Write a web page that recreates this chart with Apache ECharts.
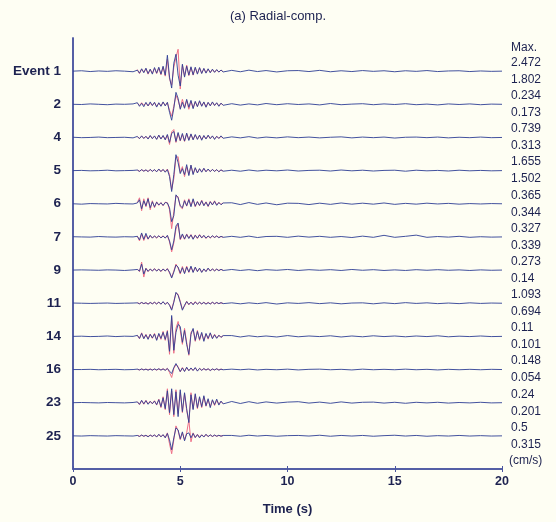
<!DOCTYPE html>
<html><head><meta charset="utf-8">
<script src="https://cdn.jsdelivr.net/npm/echarts@6/dist/echarts.min.js"></script>
<style>html,body{margin:0;padding:0;background:#fefef3}#c{width:556px;height:522px}</style>
</head><body><div id="c"></div>
<script>
// Time samples (s)
const timeBlue = [0,0.4,0.8,1.2,1.6,2.0,2.4,2.8,
 3.0,3.1,3.2,3.3,3.4,3.5,3.6,3.7,3.8,3.9,4.0,4.1,4.2,4.3,4.4,4.5,4.6,4.7,4.8,4.9,5.0,5.1,5.2,5.3,5.4,5.5,5.6,5.7,5.8,5.9,6.0,6.1,6.2,6.3,6.4,6.5,6.6,6.7,6.8,6.9,7.0,
 7.4,7.8,8.2,8.6,9.0,9.5,10,10.5,11,11.5,12,12.5,13,13.5,14,14.5,15,15.5,16,16.5,17,17.5,18,18.5,19,19.5,20];
const timeRed = [3.0,3.1,3.2,3.3,3.4,3.5,3.6,3.7,3.8,3.9,4.0,4.1,4.2,4.3,4.4,4.5,4.6,4.7,4.8,4.9,5.0,5.1,5.2,5.3,5.4,5.5,5.6,5.7,5.8,5.9,6.0,6.1,6.2,6.3,6.4,6.5,6.6,6.7,6.8,6.9,7.0];

const eventLabels = ['Event 1','2','4','5','6','7','9','11','14','16','23','25'];
const maxTop    = ['2.472','0.234','0.739','1.655','0.365','0.327','0.273','1.093','0.11','0.148','0.24','0.5'];
const maxBottom = ['1.802','0.173','0.313','1.502','0.344','0.339','0.14','0.694','0.101','0.054','0.201','0.315'];
const xTicks = [0,5,10,15,20];

// Relative amplitudes (percent of trace scale)
const e1Blue = [0,2,-2,1,-1,2,0,-3,
 5,-10,12,-8,15,-12,10,-15,18,-10,20,-15,25,-20,
 80,-30,-85,40,85,-20,-75,35,-30,25,-20,22,-18,20,-15,18,-12,14,-10,12,-8,10,-6,8,-5,6,-4,
 4,-3,5,-2,3,-4,2,3,-2,4,-3,2,-2,3,-1,2,-3,2,-1,3,-2,1,2,-2,1,-1,0];
const e1Red = [8,-12,10,-5,12,-15,8,-10,14,-12,15,-18,20,-25,
 60,-40,-70,20,70,110,-90,30,-25,30,-22,18,-20,15,-12,16,-10,12,-8,10,-6,8,-5,6,-4,5,-3];

const e2Blue = [0,-1,2,0,-2,1,0,2,
 8,-10,5,-12,10,-8,12,-6,10,-14,8,-10,12,-8,
 10,-40,-80,-20,60,30,-25,10,-20,25,-15,20,-22,15,-12,18,-10,12,-15,10,-8,12,-6,8,-10,6,-5,
 3,-4,2,-3,4,-2,3,-1,2,-3,4,-2,1,3,-2,2,-1,3,-2,1,-3,2,-1,2,-2,1,0];
const e2Red = [5,-6,8,-5,6,-8,5,-6,8,-10,6,-8,10,-6,
 8,-30,-60,-10,45,20,-20,25,-15,20,-25,15,-18,12,-10,14,-8,10,-12,8,-6,10,-5,6,-8,5,-4];

const e4Blue = [1,-1,0,2,-1,0,1,-2,
 5,-6,8,-5,6,-8,10,-6,8,-10,12,-8,10,-12,
 15,-25,20,30,-20,25,-15,20,-18,22,-15,18,-12,15,-10,12,-14,10,-8,12,-6,8,-10,6,-5,8,-4,
 3,-2,4,-3,2,-2,3,-1,2,-2,1,3,-2,2,-1,2,-3,1,2,-1,2,-2,1,-1,2,-1,0];
const e4Red = [3,-5,6,-4,5,-6,8,-5,6,-8,10,-6,8,-10,
 12,-35,28,40,-25,20,-18,15,-20,18,-12,15,-10,12,-8,10,-10,8,-6,8,-5,6,-6,5,-4,5,-3];

const e5Blue = [0,1,-1,0,2,-1,0,1,
 3,-4,5,-3,4,-5,6,-4,5,-6,8,-5,6,-8,
 5,-30,-105,-20,80,40,-15,10,-20,30,-25,28,-20,15,-12,10,-8,12,-6,8,-5,6,-4,5,-6,4,-3,
 2,-3,3,-2,2,-1,3,-2,1,2,-2,3,-1,2,-2,1,2,-3,2,-1,1,-2,2,-1,1,-1,0];
const e5Red = [2,-3,4,-2,3,-4,5,-3,4,-5,6,-4,5,-6,
 8,-20,-95,-40,65,70,-10,20,-30,20,-20,25,-15,12,-10,8,-6,10,-5,6,-4,5,-3,4,-5,3,-2];

const e6Blue = [0,-2,1,0,-1,2,0,-1,
 4,20,-25,15,-10,25,-20,10,-15,8,-6,5,-8,6,
 4,-20,-90,-60,45,30,-10,-20,15,-10,20,-15,25,-12,10,-8,15,-10,8,-12,10,-6,12,-8,6,-5,4,
 5,-4,6,-3,4,-5,3,2,-4,3,-3,4,-2,3,-2,4,-3,2,-2,3,-1,2,-2,1,-1,1,0];
const e6Red = [6,30,-35,25,-15,30,-30,15,-20,10,-8,6,-10,8,
 5,-30,-125,-40,40,35,-15,-25,20,-12,25,-10,20,-15,12,-10,18,-8,10,-14,12,-5,15,-6,8,-4,5];

const e7Blue = [1,0,-1,2,0,-1,1,0,
 3,-15,20,-12,18,-10,8,-6,5,-4,6,-5,4,-6,
 8,-20,-65,-20,55,70,-10,15,-10,12,-8,10,-12,8,-6,10,-5,8,-6,5,-4,6,-3,5,-4,3,-2,
 3,-2,4,-3,2,3,-2,4,-1,3,-2,2,-3,4,-2,8,-2,3,9,-2,2,-1,3,-2,1,-1,0];
const e7Red = [4,-20,15,-18,10,-12,6,-5,4,-6,5,-4,6,-5,
 6,-25,-75,-30,40,65,-15,10,-12,15,-6,12,-10,10,-8,12,-4,6,-8,4,-5,4,-2,4,-3,2,-1];

const e9Blue = [0,1,0,-1,1,0,-2,1,
 3,-5,30,-20,8,-6,5,-4,6,-5,4,-6,5,-4,
 6,-10,-40,-10,25,15,-15,12,-18,15,-10,20,-12,15,-8,10,-12,6,-8,10,-5,6,-4,5,-3,4,-2,
 3,-2,2,-3,2,-1,3,-2,2,-1,2,-2,3,-1,2,-2,1,-2,2,-1,2,-1,1,-2,1,-1,0];
const e9Red = [4,-8,40,-35,10,-8,6,-5,8,-4,5,-8,6,-5,
 8,-15,-35,-5,30,10,-20,18,-15,20,-12,15,-10,12,-6,8,-10,5,-6,8,-4,5,-3,4,-2,3,-1];

const e11Blue = [1,0,-1,0,1,-1,0,1,
 2,-3,4,-2,3,-5,4,-3,5,-4,6,-5,8,-6,
 5,-10,-35,5,55,40,5,-35,-10,8,-6,5,-8,6,-4,5,-3,4,-5,3,-4,5,-3,4,-2,3,-2,
 2,-3,2,-2,3,-4,2,-1,3,-2,2,-3,1,2,-3,2,-2,3,-1,2,-2,1,-2,2,-1,1,0];
const e11Red = [2,-2,3,-2,2,-3,3,-2,4,-3,5,-4,6,-5,
 4,-8,-30,8,50,45,10,-30,-15,10,-8,6,-5,8,-5,4,-4,5,-3,4,-3,4,-2,3,-2,2,-1];

const e14Blue = [0,1,-1,0,2,-1,1,0,
 5,-10,15,-12,8,-15,10,-8,12,-20,15,-10,20,-15,
 25,-75,105,-70,20,60,50,-30,30,-40,-90,10,40,-20,25,-15,20,-25,15,-10,18,-12,8,-10,6,-5,4,
 4,-3,3,-2,2,-3,4,-2,2,-1,3,-3,2,-2,3,-1,2,-2,2,-1,3,-2,1,-1,2,-1,0];
const e14Red = [6,-12,18,-10,10,-12,12,-10,15,-18,12,-15,25,-20,
 30,-90,95,-85,40,75,30,-40,40,-30,-95,20,35,-25,30,-20,15,-20,12,-14,15,-8,10,-8,5,-4,3];

const e16Blue = [0,0,1,-1,0,1,-1,0,
 2,-2,3,-2,2,-3,2,-3,3,-2,4,-3,3,-4,
 5,-8,-20,10,30,10,-10,8,-10,12,-6,8,-5,10,-8,6,-4,5,-3,4,-5,3,-2,4,-3,2,-1,
 2,-1,2,-2,1,-1,2,-2,1,2,-1,1,-2,2,-1,1,-1,2,-1,1,-2,1,-1,1,-1,1,0];
const e16Red = [1,-2,2,-1,2,-2,3,-2,2,-3,3,-2,4,-3,
 6,-15,-40,5,25,15,-12,10,-8,8,-5,6,-4,8,-6,5,-3,4,-2,3,-4,2,-2,3,-2,2,-1];

const e23Blue = [0,1,0,-1,1,0,-1,1,
 4,-8,12,-6,10,-8,6,-5,8,-10,15,-20,25,-30,
 60,-50,70,-60,55,-70,65,-45,50,-30,-100,40,-35,45,-25,30,-20,35,-15,20,-25,15,-10,18,-12,8,-6,
 6,-4,5,-3,4,-2,3,5,-2,3,-3,4,-2,2,3,-2,2,-3,2,-1,2,-2,1,-1,2,-1,0];
const e23Red = [5,-10,10,-8,12,-6,8,-6,10,-12,18,-25,30,-35,
 70,-60,60,-70,65,-55,55,-50,45,-40,-95,50,-30,40,-30,25,-25,30,-18,15,-20,12,-14,12,-8,6,-5];

const e25Blue = [0,-1,1,0,-1,1,0,-1,
 2,-3,4,-2,3,-5,4,-3,5,-6,8,-5,6,-10,
 12,-20,-70,-10,40,30,-15,20,-25,10,15,-10,12,-8,6,-10,5,-6,8,-4,5,-3,4,-2,3,-2,2,
 2,-2,3,-1,2,-2,1,2,-1,3,-2,2,-1,2,-2,1,3,-1,2,-2,1,-1,2,-1,1,-1,0];
const e25Red = [2,-2,3,-2,2,-3,3,-2,4,-5,6,-4,5,-8,
 15,-40,-90,-20,50,25,-20,15,-20,15,80,-30,15,-10,8,-6,5,-4,6,-3,4,-3,3,-2,2,-1,1];

const blueSets = [e1Blue,e2Blue,e4Blue,e5Blue,e6Blue,e7Blue,e9Blue,e11Blue,e14Blue,e16Blue,e23Blue,e25Blue];
const redSets  = [e1Red,e2Red,e4Red,e5Red,e6Red,e7Red,e9Red,e11Red,e14Red,e16Red,e23Red,e25Red];

const gain = 0.006; // trace units per percent
const n = eventLabels.length;
const series = [];
for (let i = 0; i < n; i++) {
  const base = n - i;
  series.push({
    type: 'line', symbol: 'none', silent: true, z: 2,
    lineStyle: { color: '#ef6f86', width: 1 },
    data: timeRed.map((t, k) => [t, base + redSets[i][k] * gain])
  });
  series.push({
    type: 'line', symbol: 'none', silent: true, z: 3,
    lineStyle: { color: '#2f3f95', width: 1, opacity: 0.9 },
    data: timeBlue.map((t, k) => [t, base + blueSets[i][k] * gain])
  });
}

const frame = '#4a55a0';
const txt = '#1d2250';
const chart = echarts.init(document.getElementById('c'), null, { renderer: 'canvas' });
chart.setOption({
  animation: false,
  backgroundColor: '#fefef3',
  title: {
    text: '(a) Radial-comp.', left: 'center', top: 5,
    textStyle: { fontFamily: 'Liberation Sans', fontSize: 13, fontWeight: 'normal', color: txt }
  },
  grid: { left: 73, right: 54, top: 38, bottom: 53 },
  xAxis: [{
    type: 'value', min: 0, max: 20, interval: 5, position: 'bottom',
    name: 'Time (s)', nameLocation: 'middle', nameGap: 34,
    nameTextStyle: { fontFamily: 'Liberation Sans', fontSize: 13, fontWeight: 'bold', color: txt },
    axisLine: { lineStyle: { color: frame, width: 1.5 } },
    axisTick: { inside: true, length: 3, lineStyle: { color: frame } },
    axisLabel: { fontFamily: 'Liberation Sans', fontSize: 12.5, fontWeight: 'bold', color: txt, margin: 6,
      formatter: v => xTicks.includes(v) ? String(v) : '' },
    splitLine: { show: false }
  }, {
    type: 'value', min: 0, max: 20, interval: 5, position: 'top',
    axisLine: { lineStyle: { color: frame, width: 1.5 } },
    axisTick: { inside: true, length: 3, lineStyle: { color: frame } },
    axisLabel: { show: false }, splitLine: { show: false }
  }],
  yAxis: [{
    type: 'value', min: 0, max: 13, interval: 1, position: 'left',
    axisLine: { show: true, lineStyle: { color: frame, width: 1.5 } },
    axisTick: { show: false }, splitLine: { show: false },
    axisLabel: { fontFamily: 'Liberation Sans', fontSize: 13.5, fontWeight: 'bold', color: txt, margin: 12,
      formatter: v => (v >= 1 && v <= n) ? eventLabels[n - v] : '' }
  }, {
    type: 'value', min: 0, max: 13, interval: 1, position: 'right',
    axisLine: { show: true, lineStyle: { color: frame, width: 1.5 } },
    axisTick: { show: false }, splitLine: { show: false },
    axisLabel: { fontFamily: 'Liberation Sans', fontSize: 12, color: txt, margin: 9, lineHeight: 17,
      formatter: v => (v >= 1 && v <= n) ? maxTop[n - v] + '\n' + maxBottom[n - v] : '' }
  }],
  graphic: [
    { type: 'text', left: 511, top: 42, style: { text: 'Max.', font: '12px "Liberation Sans"', fill: txt } },
    { type: 'text', left: 509, top: 455, style: { text: '(cm/s)', font: '12px "Liberation Sans"', fill: txt } }
  ],
  series: series
});
</script>
</body></html>
